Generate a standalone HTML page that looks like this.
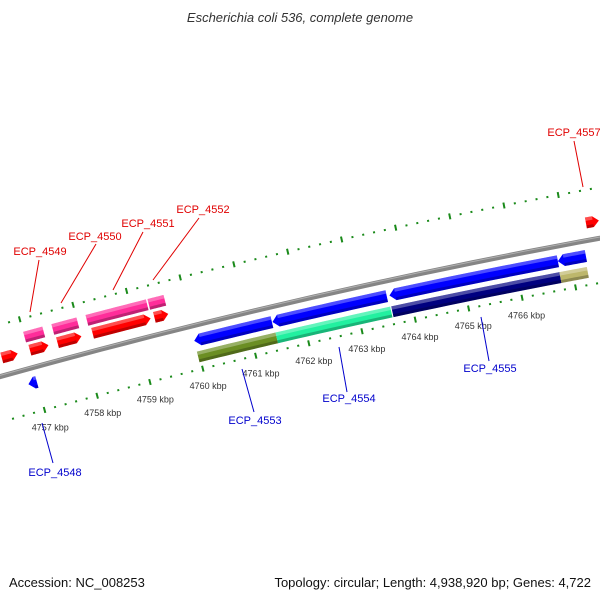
<!DOCTYPE html>
<html><head><meta charset="utf-8"><style>
html,body{margin:0;padding:0;background:#fff;}
svg{display:block;font-family:"Liberation Sans","DejaVu Sans",sans-serif;}
</style></head><body>
<svg id="map" width="600" height="600" viewBox="0 0 600 600" xmlns="http://www.w3.org/2000/svg">
<rect width="600" height="600" fill="#fff"/>
<text x="300" y="22" text-anchor="middle" font-size="13" font-style="italic" fill="#333">Escherichia coli 536, complete genome</text>
<g id="ticks"></g>
<g id="backbone"></g>
<g id="genes"></g>
<g id="labels"></g>
<text x="9" y="587" font-size="13" fill="#111">Accession: NC_008253</text>
<text x="591" y="587" text-anchor="end" font-size="13" fill="#111">Topology: circular; Length: 4,938,920 bp; Genes: 4,722</text>
</svg>
<script>
const geneStarts=[4756.5,4757.03,4757.55,4758.21,4759.37,4767.40,4757.0,4757.53,4758.17,4759.33,4756.84,4759.97,4761.44,4763.63,4766.77,4759.97,4761.45,4763.62,4766.76];
const geneEnds=[4756.80,4757.38,4758.00,4759.30,4759.63,4767.64,4757.36,4758.0,4759.30,4759.63,4757.0,4761.43,4763.58,4766.77,4767.29,4761.45,4763.6,4766.76,4767.27];
const geneRows=["f1","f1","f1","f1","f1","f1","f2","f2","f2","f2","r1","r1","r1","r1","r1","r2","r2","r2","r2"];
const geneColors=["#ff0000","#ff0000","#ff0000","#ff0000","#ff0000","#ff0000","#ff2d9a","#ff2d9a","#ff2d9a","#ff2d9a","#0000ff","#0000ff","#0000ff","#0000ff","#0000ff","#6b8e23","#22f0a0","#000080","#bdb76b"];
const tickKbp=[4757,4758,4759,4760,4761,4762,4763,4764,4765,4766];
const tickLabels=["4757 kbp","4758 kbp","4759 kbp","4760 kbp","4761 kbp","4762 kbp","4763 kbp","4764 kbp","4765 kbp","4766 kbp"];
const labelNames=["ECP_4557","ECP_4552","ECP_4551","ECP_4550","ECP_4549","ECP_4548","ECP_4553","ECP_4554","ECP_4555"];
const labelColors=["#e00000","#e00000","#e00000","#e00000","#e00000","#0000cc","#0000cc","#0000cc","#0000cc"];
const labelTextXY=[[574,136],[203,213],[148,227],[95,240],[40,255],[55,476],[255,424],[349,402],[490,372]];
const labelLines=[[[574,141],[583,187]],[[199,218],[153,280]],[[143,232],[113,290]],[[96,244],[61,303]],[[39,260],[30,312]],[[53,463],[42,423]],[[254,412],[242,369]],[[347,392],[339,347]],[[489,361],[481,317]]];

const NS="http://www.w3.org/2000/svg";
const Cx=1816.5,Cy=6877.6,R=6750;
const phi0=Math.atan2(327.5-Cy,192.6-Cx),dphi=0.00813;
function P(k,p){const a=phi0+(k-4760)*dphi,r=R-p;return [Cx+r*Math.cos(a),Cy+r*Math.sin(a)];}
function mk(tag,attrs,parent){const e=document.createElementNS(NS,tag);for(const k in attrs)e.setAttribute(k,attrs[k]);parent.appendChild(e);return e;}
function arcPts(k1,k2,p){const n=12,pts=[];for(let i=0;i<=n;i++){pts.push(P(k1+(k2-k1)*i/n,p));}return pts;}
function ptsStr(a){return a.map(q=>q[0].toFixed(2)+","+q[1].toFixed(2)).join(" ");}

const kMin=4756.3,kMax=4768.2;
// backbone
const bb=document.getElementById('backbone');
const bp=mk('polyline',{points:ptsStr(arcPts(kMin,kMax,0)),fill:'none',stroke:'#858585','stroke-width':5},bb);

const bh=mk('polyline',{points:ptsStr(arcPts(kMin,kMax,-1.2)),fill:'none',stroke:'#b0b0b0','stroke-width':1},bb);


// ticks
const tg=document.getElementById('ticks');
for(const base of [44,-50]){
  for(let k=Math.ceil(kMin*5)/5;k<=kMax;k+=0.2){
    const major=Math.abs(k-Math.round(k))<0.01;
    const h=major?3:1;
    const a=P(k,base-h),b=P(k,base+h);
    const t=mk('line',{x1:a[0],y1:a[1],x2:b[0],y2:b[1],stroke:'#1a8a1a','stroke-width':2},tg);
    
    
  }
}
tickKbp.forEach((k,i)=>{
  const q=P(k,62);
  const t=mk('text',{x:q[0]+1,y:q[1]+3,'text-anchor':'middle','font-size':9,fill:'#333'},tg);
  t.textContent=tickLabels[i];
  
  
});

// genes
const rowRange={f1:[-23,-12],f2:[-37,-26],r1:[9,21],r2:[26,37]};
const gg=document.getElementById('genes');
geneStarts.forEach((s,i)=>{
  const e=geneEnds[i],row=geneRows[i],[pa,pb]=rowRange[row];
  const head=0.11;
  let pts;
  if(row==='f1'){
    const be=Math.max(s,e-head);
    pts=arcPts(s,be,pa).concat([P(e,(pa+pb)/2)]).concat(arcPts(s,be,pb).reverse());
  }else if(row==='r1'){
    const bs=Math.min(e,s+head);
    pts=[P(s,(pa+pb)/2)].concat(arcPts(bs,e,pa)).concat(arcPts(bs,e,pb).reverse());
  }else{
    pts=arcPts(s,e,pa).concat(arcPts(s,e,pb).reverse());
  }
  const g=mk('polygon',{points:ptsStr(pts),fill:geneColors[i]},gg);
  
  
  // shading
  const sh=mk('polygon',{points:ptsStr(arcPts(s+(row==='r1'?head:0),e-(row==='f1'?head:0),pa).concat(arcPts(s+(row==='r1'?head:0),e-(row==='f1'?head:0),pa+3.5).reverse())),fill:'#fff','fill-opacity':0.3},gg);
  
  
  const dk=mk('polygon',{points:ptsStr(arcPts(s+(row==='r1'?head:0),e-(row==='f1'?head:0),pb-3).concat(arcPts(s+(row==='r1'?head:0),e-(row==='f1'?head:0),pb).reverse())),fill:'#000','fill-opacity':0.25},gg);
  
  
});

// labels
const lg=document.getElementById('labels');
labelNames.forEach((n,i)=>{
  const L=labelLines[i];
  const l=mk('line',{x1:L[0][0],y1:L[0][1],x2:L[1][0],y2:L[1][1],stroke:labelColors[i],'stroke-width':1},lg);
  
  
  const t=mk('text',{x:labelTextXY[i][0],y:labelTextXY[i][1],'text-anchor':'middle','font-size':11,fill:labelColors[i]},lg);
  t.textContent=n;
  
  
});
</script>
</body></html>
